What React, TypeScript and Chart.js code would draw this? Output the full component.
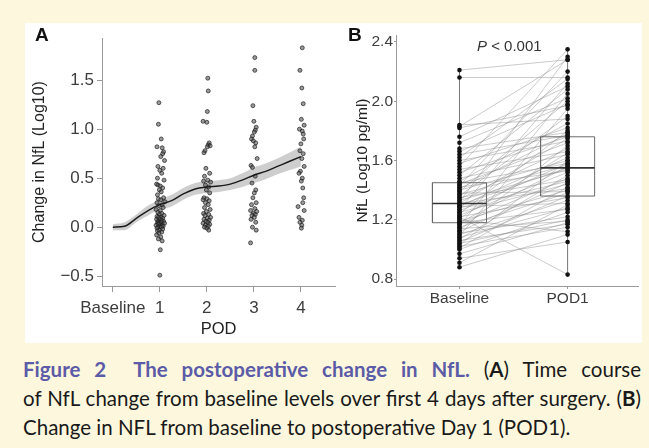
import React, { useEffect, useRef } from "react";
import { Chart, registerables } from "chart.js";

Chart.register(...registerables);

// ---------- Panel A data ----------
const podTicks = [0, 1, 2, 3, 4];
const podLabels = ["Baseline", "1", "2", "3", "4"];
const yTicksA = [-0.5, 0, 0.5, 1.0, 1.5];

// [jittered POD, change in NfL]
const pod1Points = [
  [0.98, 1.27], [0.97, 1.05], [1.03, 0.9], [0.94, 0.82], [1.05, 0.81], [1.08, 0.77], [1.06, 0.75], [1.02, 0.72],
  [1.1, 0.68], [0.96, 0.62], [1.07, 0.6], [1.0, 0.58], [1.04, 0.55], [0.95, 0.5], [1.09, 0.48], [0.93, 0.44],
  [0.96, 0.43], [1.01, 0.42], [1.06, 0.4], [0.99, 0.38], [1.03, 0.36], [0.95, 0.33], [1.08, 0.3], [0.97, 0.29],
  [1.02, 0.28], [1.11, 0.26], [0.94, 0.25], [1.05, 0.23], [0.98, 0.22], [1.07, 0.2], [0.92, 0.18], [1.01, 0.17],
  [0.96, 0.15], [1.04, 0.14], [0.99, 0.13], [1.09, 0.12], [0.94, 0.11], [1.02, 0.1], [0.97, 0.1], [1.06, 0.09],
  [0.93, 0.08], [1.0, 0.08], [1.04, 0.07], [0.96, 0.06], [1.08, 0.06], [0.98, 0.05], [1.03, 0.05], [0.95, 0.04],
  [1.1, 0.04], [1.01, 0.03], [0.97, 0.03], [1.05, 0.02], [0.92, 0.02], [1.0, 0.01], [1.07, 0.01], [0.96, 0.0],
  [1.03, 0.0], [0.94, -0.01], [1.06, -0.02], [0.99, -0.03], [0.95, -0.04], [1.04, -0.05], [0.98, -0.06],
  [0.93, -0.08], [1.02, -0.1], [0.97, -0.12], [1.05, -0.14], [1.01, -0.23], [1.0, -0.49],
];
const pod2Points = [
  [2.02, 1.52], [2.03, 1.39], [2.01, 1.18], [1.92, 1.08], [2.0, 1.07], [2.05, 0.86], [2.03, 0.84], [2.07, 0.83],
  [2.01, 0.82], [1.96, 0.78], [1.94, 0.76], [1.98, 0.6], [2.06, 0.55], [1.95, 0.52], [2.02, 0.48], [1.93, 0.47],
  [2.08, 0.46], [1.97, 0.43], [2.04, 0.41], [1.99, 0.38], [2.06, 0.35], [1.94, 0.3], [2.0, 0.29], [1.92, 0.28],
  [2.05, 0.27], [1.97, 0.25], [2.03, 0.23], [1.95, 0.2], [2.07, 0.18], [1.99, 0.16], [1.93, 0.14], [2.04, 0.13],
  [1.96, 0.12], [2.08, 0.1], [2.01, 0.09], [1.94, 0.08], [2.05, 0.07], [1.98, 0.06], [2.02, 0.05], [1.92, 0.04],
  [2.06, 0.03], [1.97, 0.02], [2.03, 0.01], [1.95, 0.0], [2.0, -0.01], [2.04, -0.03],
];
const pod3Points = [
  [3.02, 1.73], [3.02, 1.6], [2.98, 1.24], [3.0, 1.08], [3.05, 1.02], [3.03, 0.99], [3.01, 0.97], [2.97, 0.93],
  [2.95, 0.9], [2.99, 0.88], [3.04, 0.86], [3.02, 0.82], [3.07, 0.7], [2.94, 0.63], [2.97, 0.61], [3.03, 0.52],
  [2.96, 0.45], [3.04, 0.38], [3.01, 0.35], [2.98, 0.3], [3.05, 0.25], [2.95, 0.23], [3.02, 0.19], [2.93, 0.17],
  [3.06, 0.16], [2.99, 0.14], [3.03, 0.13], [2.96, 0.12], [3.01, 0.1], [2.94, 0.08], [3.04, 0.05], [2.97, 0.0],
  [3.05, -0.03], [2.93, -0.16],
];
const pod4Points = [
  [4.03, 1.83], [3.98, 1.6], [4.02, 1.42], [4.05, 1.26], [4.01, 1.1], [4.07, 1.04], [3.97, 1.0], [4.03, 0.98],
  [4.05, 0.95], [4.06, 0.9], [4.0, 0.85], [3.98, 0.78], [4.05, 0.75], [4.02, 0.7], [4.07, 0.62], [3.99, 0.57],
  [3.96, 0.55], [4.03, 0.5], [4.01, 0.47], [4.04, 0.4], [4.06, 0.3], [4.04, 0.25], [3.94, 0.21], [4.07, 0.17],
  [3.96, 0.1], [4.03, 0.07], [3.98, 0.05], [4.02, 0.02], [4.01, -0.01],
];

const smoothX = [0, 0.25, 0.5, 0.75, 1, 1.25, 1.5, 1.75, 2, 2.25, 2.5, 2.75, 3, 3.25, 3.5, 3.75, 4];
const smoothY = [0, 0.01, 0.09, 0.17, 0.23, 0.27, 0.34, 0.39, 0.41, 0.42, 0.44, 0.48, 0.53, 0.57, 0.62, 0.67, 0.72];
const bandHigh = [0.03, 0.05, 0.13, 0.22, 0.28, 0.33, 0.4, 0.45, 0.47, 0.48, 0.5, 0.55, 0.61, 0.65, 0.7, 0.76, 0.82];
const bandLow = [-0.03, -0.03, 0.05, 0.12, 0.18, 0.21, 0.28, 0.33, 0.35, 0.36, 0.38, 0.41, 0.45, 0.49, 0.54, 0.58, 0.62];

// ---------- Panel B data ----------
const groupLabels = ["Baseline", "POD1"];
const groupPos = [1, 2];
const yTicksB = [0.8, 1.2, 1.6, 2.0, 2.4];
const pairedBaseline = [
  0.88, 0.91, 0.94, 0.97, 1.0, 1.01, 1.02, 1.03, 1.04, 1.05, 1.06, 1.07, 1.08, 1.09, 1.1, 1.11, 1.12, 1.13, 1.14,
  1.15, 1.16, 1.17, 1.18, 1.18, 1.19, 1.2, 1.21, 1.22, 1.22, 1.23, 1.24, 1.25, 1.26, 1.27, 1.28, 1.29, 1.29, 1.3,
  1.31, 1.31, 1.32, 1.33, 1.34, 1.35, 1.36, 1.37, 1.38, 1.39, 1.4, 1.41, 1.42, 1.43, 1.44, 1.45, 1.46, 1.48, 1.5,
  1.52, 1.54, 1.56, 1.58, 1.6, 1.62, 1.64, 1.66, 1.68, 1.72, 1.76, 1.82, 1.83, 1.84, 2.16, 2.21,
];
const pairedPod1 = [
  1.1, 1.3, 1.05, 1.18, 1.25, 1.42, 1.15, 1.6, 1.2, 1.36, 1.17, 1.5, 1.28, 1.95, 1.33, 1.22, 1.45, 1.7, 1.19,
  1.38, 2.05, 1.48, 1.27, 1.56, 1.4, 1.12, 1.65, 0.83, 1.35, 1.52, 1.8, 1.44, 1.58, 2.12, 1.46, 1.62, 1.31, 1.55,
  1.75, 1.41, 2.3, 1.54, 1.68, 1.47, 1.9, 1.57, 1.39, 2.0, 1.6, 1.78, 1.53, 2.2, 1.72, 1.58, 1.85, 1.64, 2.08,
  1.76, 1.66, 2.35, 1.82, 1.73, 2.15, 1.77, 1.98, 1.79, 2.02, 2.1, 1.97, 2.28, 1.88, 2.16, 2.28,
];
const boxQ1 = [1.18, 1.36];
const boxMedian = [1.31, 1.55];
const boxQ3 = [1.45, 1.76];

const FONT = "'Liberation Sans', Arial, Helvetica, sans-serif";
const AXIS = "#9a9a9a";
const TICKTXT = "#3d3d3d";

function PanelA() {
  const ref = useRef<HTMLCanvasElement | null>(null);
  useEffect(() => {
    if (!ref.current) return;
    const all = [...pod1Points, ...pod2Points, ...pod3Points, ...pod4Points].map(([x, y]) => ({ x, y }));
    const chart = new Chart(ref.current, {
      type: "line",
      data: {
        datasets: [
          {
            data: smoothX.map((x, i) => ({ x, y: bandHigh[i] })),
            fill: "+1",
            backgroundColor: "rgba(165,165,165,0.55)",
            borderColor: "transparent",
            borderWidth: 0,
            pointRadius: 0,
            cubicInterpolationMode: "monotone",
            order: 3,
          },
          {
            data: smoothX.map((x, i) => ({ x, y: bandLow[i] })),
            fill: false,
            borderColor: "transparent",
            borderWidth: 0,
            pointRadius: 0,
            cubicInterpolationMode: "monotone",
            order: 3,
          },
          {
            type: "scatter",
            data: all,
            pointRadius: 2,
            pointBackgroundColor: "rgba(85,85,85,0.6)",
            pointBorderColor: "rgba(20,20,20,0.8)",
            pointBorderWidth: 0.8,
            order: 2,
          } as any,
          {
            data: smoothX.map((x, i) => ({ x, y: smoothY[i] })),
            fill: false,
            borderColor: "#1a1a1a",
            borderWidth: 1.4,
            pointRadius: 0,
            cubicInterpolationMode: "monotone",
            order: 1,
          },
        ],
      },
      options: {
        responsive: false,
        animation: false,
        layout: { padding: { top: 15, left: 0, right: 0, bottom: 0 } },
        plugins: { legend: { display: false }, tooltip: { enabled: false } },
        scales: {
          x: {
            type: "linear",
            min: -0.23,
            max: 4.73,
            afterBuildTicks: (s: any) => {
              s.ticks = podTicks.map((v) => ({ value: v }));
            },
            afterFit: (s: any) => {
              s.height = 56;
            },
            ticks: {
              autoSkip: false,
              maxRotation: 0,
              padding: 6,
              color: TICKTXT,
              font: { family: FONT, size: 17 },
              callback: (_v: any, i: number) => podLabels[i],
            },
            grid: { display: true, drawOnChartArea: false, drawTicks: true, tickLength: 6, color: AXIS },
            border: { display: true, color: AXIS },
            title: {
              display: true,
              text: "POD",
              color: "#222",
              font: { family: FONT, size: 16.5 },
              padding: { top: 0, bottom: 3 },
            },
          },
          y: {
            type: "linear",
            min: -0.6,
            max: 1.93,
            afterBuildTicks: (s: any) => {
              s.ticks = yTicksA.map((v) => ({ value: v }));
            },
            afterFit: (s: any) => {
              s.width = 77;
            },
            ticks: {
              padding: 3,
              color: TICKTXT,
              font: { family: FONT, size: 17 },
              callback: (v: any) => (Number(v) < 0 ? "\u2212" + Math.abs(Number(v)).toFixed(1) : Number(v).toFixed(1)),
            },
            grid: { display: true, drawOnChartArea: false, drawTicks: true, tickLength: 5, color: AXIS },
            border: { display: true, color: AXIS },
            title: {
              display: true,
              text: "Change in NfL (Log10)",
              color: "#222",
              font: { family: FONT, size: 16 },
              padding: { top: 5, bottom: 0 },
            },
          },
        },
      },
    });
    return () => chart.destroy();
  }, []);
  return <canvas ref={ref} width={315} height={319} style={{ position: "absolute", left: 25, top: 23 }} />;
}

function PanelB() {
  const ref = useRef<HTMLCanvasElement | null>(null);
  useEffect(() => {
    if (!ref.current) return;
    const hw = 0.25;
    const pairSets = pairedBaseline.map((b, i) => ({
      data: [
        { x: groupPos[0], y: b },
        { x: groupPos[1], y: pairedPod1[i] },
      ],
      borderColor: "rgba(135,135,135,0.55)",
      borderWidth: 0.8,
      pointRadius: 0,
      fill: false,
      order: 5,
    }));
    const series = [pairedBaseline, pairedPod1];
    const whiskers = groupPos.map((p, g) => ({
      data: [
        { x: p, y: Math.min(...series[g]) },
        { x: p, y: Math.max(...series[g]) },
      ],
      borderColor: "#777",
      borderWidth: 1,
      pointRadius: 0,
      fill: false,
      order: 4,
    }));
    const boxes = groupPos.map((p, g) => ({
      data: [
        { x: p - hw, y: boxQ1[g] },
        { x: p + hw, y: boxQ1[g] },
        { x: p + hw, y: boxQ3[g] },
        { x: p - hw, y: boxQ3[g] },
        { x: p - hw, y: boxQ1[g] },
      ],
      borderColor: "#6a6a6a",
      borderWidth: 1,
      pointRadius: 0,
      fill: false,
      order: 3,
    }));
    const medians = groupPos.map((p, g) => ({
      data: [
        { x: p - hw, y: boxMedian[g] },
        { x: p + hw, y: boxMedian[g] },
      ],
      borderColor: "#333",
      borderWidth: 1.6,
      pointRadius: 0,
      fill: false,
      order: 2,
    }));
    const pts = groupPos.map((p, g) => ({
      type: "scatter",
      data: series[g].map((v) => ({ x: p, y: v })),
      pointRadius: 2.3,
      pointBackgroundColor: "#111",
      pointBorderColor: "#111",
      pointBorderWidth: 0,
      order: 1,
    }));
    const chart = new Chart(ref.current, {
      type: "line",
      data: { datasets: [...pairSets, ...whiskers, ...boxes, ...medians, ...(pts as any)] },
      options: {
        responsive: false,
        animation: false,
        layout: { padding: { top: 12, left: 0, right: 2, bottom: 0 } },
        plugins: { legend: { display: false }, tooltip: { enabled: false } },
        scales: {
          x: {
            type: "linear",
            min: 0.413,
            max: 2.651,
            afterBuildTicks: (s: any) => {
              s.ticks = groupPos.map((v) => ({ value: v }));
            },
            afterFit: (s: any) => {
              s.height = 56;
            },
            ticks: {
              autoSkip: false,
              maxRotation: 0,
              padding: 0,
              color: TICKTXT,
              font: { family: FONT, size: 15.5 },
              callback: (_v: any, i: number) => groupLabels[i],
            },
            grid: { display: true, drawOnChartArea: false, drawTicks: true, tickLength: 3, color: AXIS },
            border: { display: true, color: AXIS },
          },
          y: {
            type: "linear",
            min: 0.753,
            max: 2.447,
            afterBuildTicks: (s: any) => {
              s.ticks = yTicksB.map((v) => ({ value: v }));
            },
            afterFit: (s: any) => {
              s.width = 56;
            },
            ticks: {
              padding: 1,
              color: TICKTXT,
              font: { family: FONT, size: 15.5 },
              callback: (v: any) => Number(v).toFixed(1),
            },
            grid: { display: true, drawOnChartArea: false, drawTicks: true, tickLength: 2, color: AXIS },
            border: { display: true, color: AXIS },
            title: {
              display: true,
              text: "NfL (Log10 pg/ml)",
              color: "#222",
              font: { family: FONT, size: 15.5 },
              padding: { top: 13, bottom: 0 },
            },
          },
        },
      },
    });
    return () => chart.destroy();
  }, []);
  return <canvas ref={ref} width={302} height={319} style={{ position: "absolute", left: 340, top: 23 }} />;
}

export default function App() {
  const lineStyle: React.CSSProperties = {
    height: 29,
    whiteSpace: "nowrap",
  };
  const just: React.CSSProperties = { ...lineStyle, textAlign: "justify", textAlignLast: "justify" } as any;
  return (
    <div
      style={{
        position: "absolute",
        left: 0,
        top: 0,
        width: 649,
        height: 448,
        background: "#fdf8dd",
        overflow: "hidden",
      }}
    >
      <div style={{ position: "absolute", left: 25, top: 23, width: 617, height: 320, background: "#ffffff" }} />
      <PanelA />
      <PanelB />
      <div style={{ position: "absolute", left: 35, top: 25, font: `bold 19px ${FONT}`, lineHeight: "19px", color: "#111" }}>A</div>
      <div style={{ position: "absolute", left: 348, top: 25, font: `bold 19px ${FONT}`, lineHeight: "19px", color: "#111" }}>B</div>
      <div style={{ position: "absolute", left: 477, top: 38, font: `15px ${FONT}`, lineHeight: "15px", color: "#333" }}>
        <i>P</i> &lt; 0.001
      </div>
      <div
        style={{
          position: "absolute",
          left: 23,
          top: 355,
          width: 618,
          fontFamily: "Lato, 'Open Sans', sans-serif",
          fontSize: 20.5,
          lineHeight: "29px",
          color: "#1a1a1a",
        }}
      >
        <div style={just}>
          <b style={{ color: "#5b5ba8" }}>Figure 2&nbsp; The postoperative change in NfL.</b> (<b>A</b>) Time course
        </div>
        <div style={just}>
          of NfL change from baseline levels over first 4 days after surgery. (<b>B</b>)
        </div>
        <div style={lineStyle}>Change in NFL from baseline to postoperative Day 1 (POD1).</div>
      </div>
    </div>
  );
}
